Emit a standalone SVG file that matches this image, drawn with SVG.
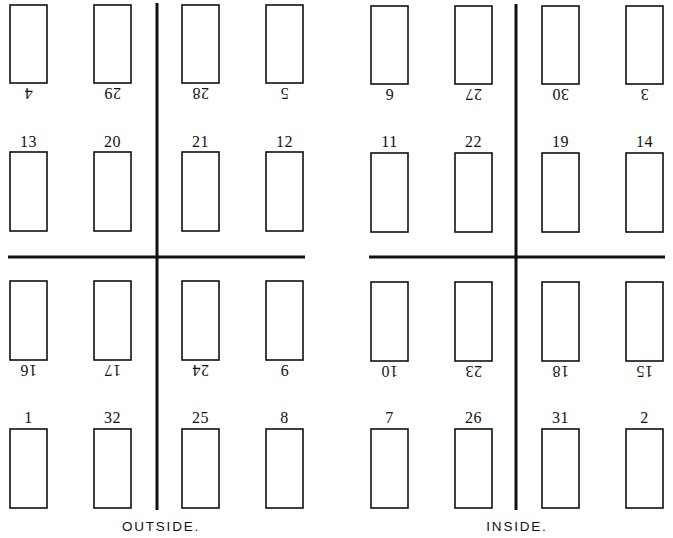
<svg xmlns="http://www.w3.org/2000/svg" width="673" height="538" viewBox="0 0 673 538">
<style>
.pg{fill:#fff;stroke:#111;stroke-width:1.6}
.fold{stroke:#111;stroke-width:3;fill:none}
.n{font-family:"Liberation Serif",serif;font-size:16px;fill:#111;text-anchor:middle;letter-spacing:0.5px}
.cap{font-family:"Liberation Sans",Arial,sans-serif;font-size:13.5px;fill:#111;text-anchor:middle;letter-spacing:1.8px}
</style>
<rect width="673" height="538" fill="#fff"/>
<g id="connectors">
<line class="fold" x1="157" y1="3" x2="157" y2="510"/>
<line class="fold" x1="8" y1="257" x2="305" y2="257"/>
<line class="fold" x1="516" y1="4" x2="516" y2="510"/>
<line class="fold" x1="369" y1="257" x2="665" y2="257"/>
</g>
<g id="outside">
<g id="p4"><rect class="pg" x="10" y="5" width="37" height="78"/><text class="n" x="28.5" y="88" transform="rotate(180 28.5 88)">4</text></g>
<g id="p29"><rect class="pg" x="94" y="5" width="37" height="78"/><text class="n" x="112.5" y="88" transform="rotate(180 112.5 88)">29</text></g>
<g id="p28"><rect class="pg" x="182" y="5" width="37" height="78"/><text class="n" x="200.5" y="88" transform="rotate(180 200.5 88)">28</text></g>
<g id="p5"><rect class="pg" x="266" y="5" width="37" height="78"/><text class="n" x="284.5" y="88" transform="rotate(180 284.5 88)">5</text></g>
<g id="p13"><rect class="pg" x="10" y="152" width="37" height="79"/><text class="n" x="28.5" y="147">13</text></g>
<g id="p20"><rect class="pg" x="94" y="152" width="37" height="79"/><text class="n" x="112.5" y="147">20</text></g>
<g id="p21"><rect class="pg" x="182" y="152" width="37" height="79"/><text class="n" x="200.5" y="147">21</text></g>
<g id="p12"><rect class="pg" x="266" y="152" width="37" height="79"/><text class="n" x="284.5" y="147">12</text></g>
<g id="p16"><rect class="pg" x="10" y="281" width="37" height="79"/><text class="n" x="28.5" y="365" transform="rotate(180 28.5 365)">16</text></g>
<g id="p17"><rect class="pg" x="94" y="281" width="37" height="79"/><text class="n" x="112.5" y="365" transform="rotate(180 112.5 365)">17</text></g>
<g id="p24"><rect class="pg" x="182" y="281" width="37" height="79"/><text class="n" x="200.5" y="365" transform="rotate(180 200.5 365)">24</text></g>
<g id="p9"><rect class="pg" x="266" y="281" width="37" height="79"/><text class="n" x="284.5" y="365" transform="rotate(180 284.5 365)">9</text></g>
<g id="p1"><rect class="pg" x="10" y="429" width="37" height="79"/><text class="n" x="28.5" y="423">1</text></g>
<g id="p32"><rect class="pg" x="94" y="429" width="37" height="79"/><text class="n" x="112.5" y="423">32</text></g>
<g id="p25"><rect class="pg" x="182" y="429" width="37" height="79"/><text class="n" x="200.5" y="423">25</text></g>
<g id="p8"><rect class="pg" x="266" y="429" width="37" height="79"/><text class="n" x="284.5" y="423">8</text></g>
<text class="cap" x="161" y="531">OUTSIDE.</text>
</g>
<g id="inside">
<g id="p6"><rect class="pg" x="371" y="6" width="37" height="78"/><text class="n" x="389.5" y="89" transform="rotate(180 389.5 89)">6</text></g>
<g id="p27"><rect class="pg" x="455" y="6" width="37" height="78"/><text class="n" x="473.5" y="89" transform="rotate(180 473.5 89)">27</text></g>
<g id="p30"><rect class="pg" x="542" y="6" width="37" height="78"/><text class="n" x="560.5" y="89" transform="rotate(180 560.5 89)">30</text></g>
<g id="p3"><rect class="pg" x="626" y="6" width="37" height="78"/><text class="n" x="644.5" y="89" transform="rotate(180 644.5 89)">3</text></g>
<g id="p11"><rect class="pg" x="371" y="153" width="37" height="79"/><text class="n" x="389.5" y="147">11</text></g>
<g id="p22"><rect class="pg" x="455" y="153" width="37" height="79"/><text class="n" x="473.5" y="147">22</text></g>
<g id="p19"><rect class="pg" x="542" y="153" width="37" height="79"/><text class="n" x="560.5" y="147">19</text></g>
<g id="p14"><rect class="pg" x="626" y="153" width="37" height="79"/><text class="n" x="644.5" y="147">14</text></g>
<g id="p10"><rect class="pg" x="371" y="282" width="37" height="79"/><text class="n" x="389.5" y="366" transform="rotate(180 389.5 366)">10</text></g>
<g id="p23"><rect class="pg" x="455" y="282" width="37" height="79"/><text class="n" x="473.5" y="366" transform="rotate(180 473.5 366)">23</text></g>
<g id="p18"><rect class="pg" x="542" y="282" width="37" height="79"/><text class="n" x="560.5" y="366" transform="rotate(180 560.5 366)">18</text></g>
<g id="p15"><rect class="pg" x="626" y="282" width="37" height="79"/><text class="n" x="644.5" y="366" transform="rotate(180 644.5 366)">15</text></g>
<g id="p7"><rect class="pg" x="371" y="429" width="37" height="79"/><text class="n" x="389.5" y="423">7</text></g>
<g id="p26"><rect class="pg" x="455" y="429" width="37" height="79"/><text class="n" x="473.5" y="423">26</text></g>
<g id="p31"><rect class="pg" x="542" y="429" width="37" height="79"/><text class="n" x="560.5" y="423">31</text></g>
<g id="p2"><rect class="pg" x="626" y="429" width="37" height="79"/><text class="n" x="644.5" y="423">2</text></g>
<text class="cap" x="517" y="531">INSIDE.</text>
</g>
</svg>
